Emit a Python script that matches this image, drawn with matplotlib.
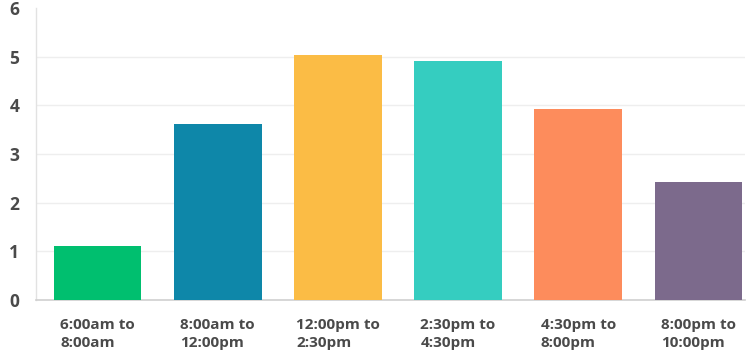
import matplotlib
matplotlib.use("Agg")
import matplotlib.pyplot as plt

categories = ["6:00am to\n8:00am", "8:00am to\n12:00pm", "12:00pm to\n2:30pm",
              "2:30pm to\n4:30pm", "4:30pm to\n8:00pm", "8:00pm to\n10:00pm"]
values = [1.12, 3.61, 5.04, 4.91, 3.93, 2.42]
colors = ["#00BF6F", "#0E87A9", "#FBBC45", "#35CDC0", "#FD8C5C", "#7C6A8C"]
yticks = [0, 1, 2, 3, 4, 5, 6]

plt.rcParams['font.family'] = ['Open Sans', 'DejaVu Sans']

fig = plt.figure(figsize=(7.47, 3.58), dpi=100)
ax = fig.add_axes([0.048, 0.162, 0.949, 0.815])

x = list(range(len(categories)))
ax.bar(x, values, width=0.73, color=colors, zorder=3)

ax.set_xlim(-0.513, 5.385)
ax.set_ylim(0, 6)
ax.set_yticks(yticks)
ax.set_yticklabels([str(t) for t in yticks], fontsize=12.5, fontweight='bold', color='#4A4A4A')
ax.set_xticks(x)
ax.set_xticklabels(categories, fontsize=11, fontweight='bold', color='#4A4A4A',
                   multialignment='left', linespacing=1.4)
ax.tick_params(axis='y', length=0, pad=12)
ax.tick_params(axis='x', length=0, pad=13)

ax.yaxis.grid(True, color='#EEEEEE', linewidth=1, zorder=0)
ax.set_axisbelow(True)
ax.get_ygridlines()[-1].set_visible(False)
ax.get_ygridlines()[0].set_visible(False)

for s in ['top', 'right']:
    ax.spines[s].set_visible(False)
ax.spines['left'].set_color('#E2E2E2')
ax.spines['bottom'].set_color('#CFCFCF')
ax.spines['left'].set_linewidth(1)
ax.spines['bottom'].set_linewidth(1.2)

fig.savefig("out.png", dpi=100)
